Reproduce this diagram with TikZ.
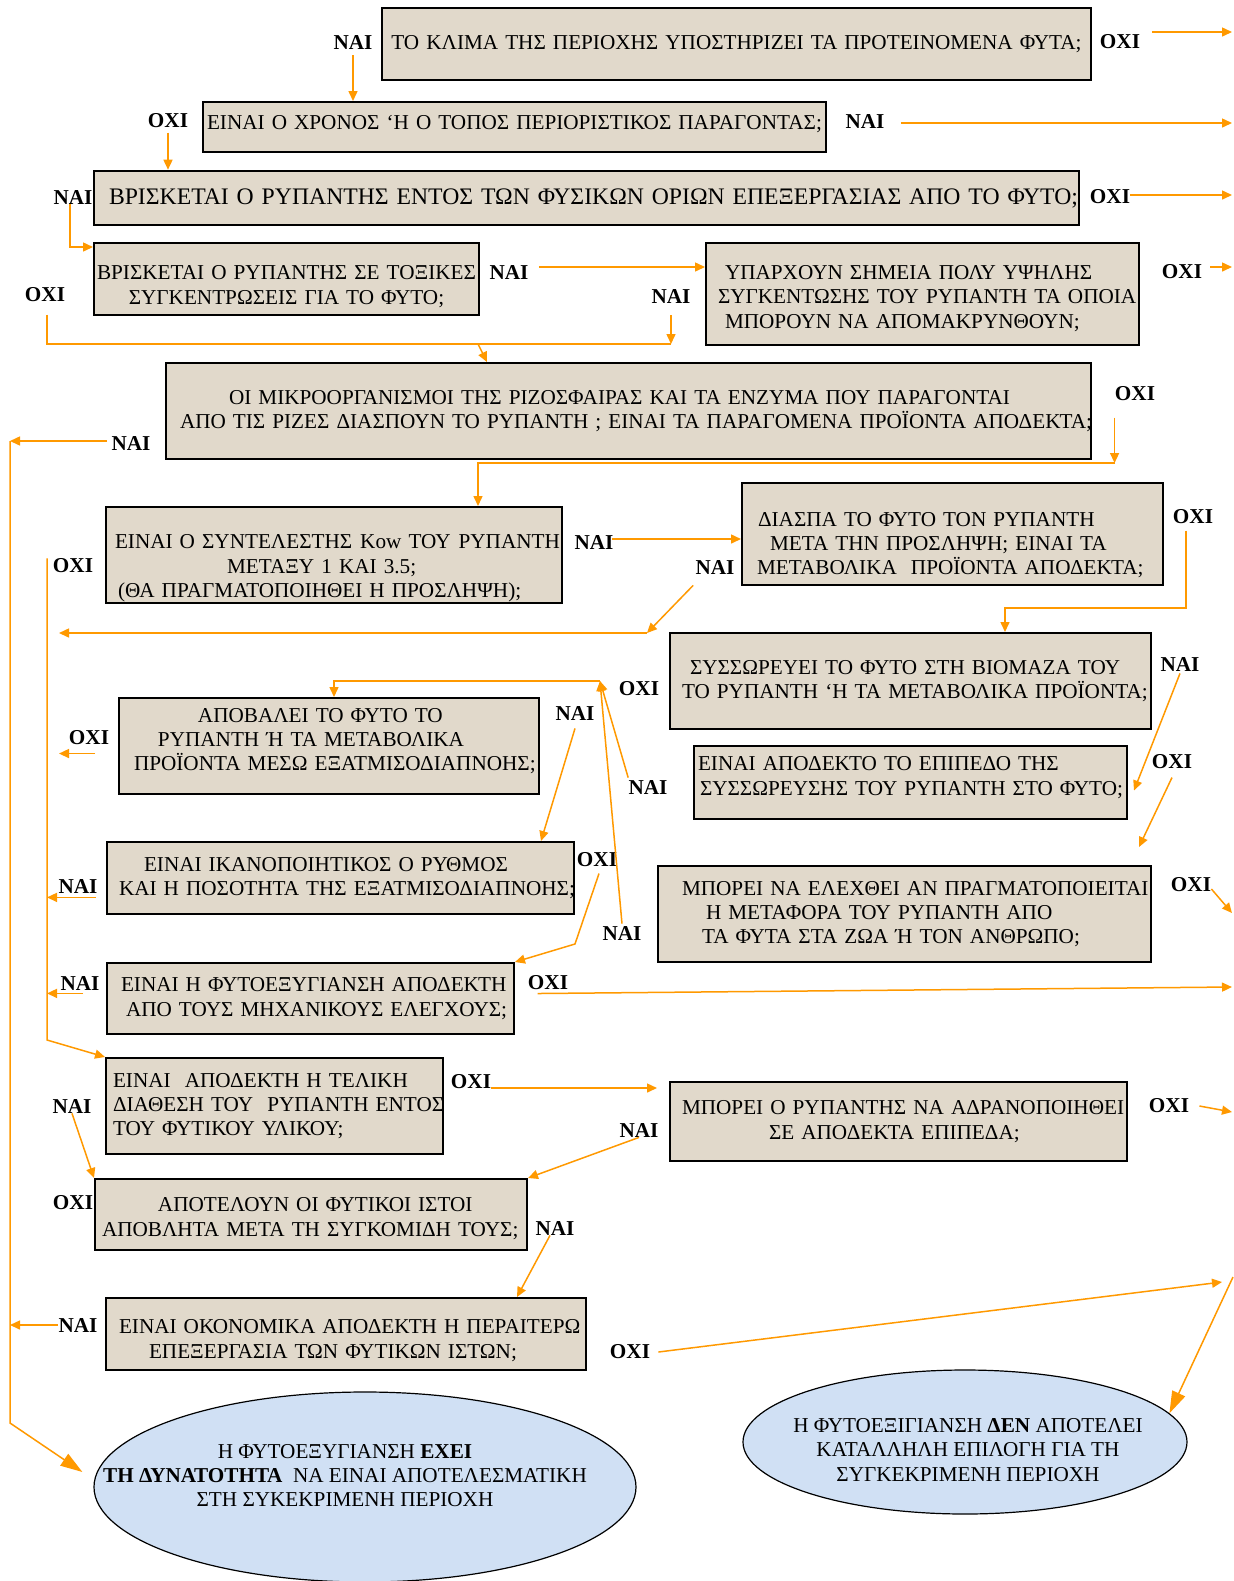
\documentclass[tikz,border=0pt]{standalone}
\usepackage{fontspec}
\setmainfont{Liberation Serif}
\usetikzlibrary{arrows.meta,calc,shapes.geometric}
\definecolor{boxfill}{RGB}{225,217,203}
\definecolor{ellfill}{RGB}{208,224,244}
\definecolor{arrorange}{RGB}{255,153,0}
\newcommand{\diagfont}{\fontsize{10.6pt}{12.2pt}\selectfont}
\newcommand{\bigdiagfont}{\fontsize{11.85pt}{13.5pt}\selectfont}
\newcommand{\bline}[2]{\hspace*{#1}\mbox{#2}}
\newcommand{\tdn}[1]{\rule{0pt}{#1}}
\newcommand{\tup}[1]{\rule[-#1]{0pt}{0pt}}
\begin{document}
\begin{tikzpicture}[x=0.5pt,y=-0.5pt,
  qbox/.style={draw=black, line width=1pt, fill=boxfill, inner xsep=0pt, inner ysep=0pt, font=\diagfont},
  bx/.style 2 args={minimum width=#1, text width=#1, minimum height=#2},
  lab/.style={font={\diagfont\bfseries}, inner sep=0pt},
  conn/.style={draw=arrorange, line width=0.75pt},
  arr/.style={conn, -{Triangle[length=5pt,width=4.5pt]}},
  bigarr/.style={conn, -{Triangle[length=11pt,width=7pt]}},
  ell/.style={ellipse, draw=black, line width=0.6pt, fill=ellfill, inner sep=0pt},
  elltext/.style={font=\diagfont, align=center, inner sep=0pt}
]
\fill[white] (0,0) rectangle (1233,1581);
\useasboundingbox (0,0) rectangle (1233,1581);

% ---------------- boxes ----------------
\node[qbox, line width=1.3pt, bx={354.5pt}{36pt}, align=center] (b1) at (736.5,44)
  {\mbox{ΤΟ ΚΛΙΜΑ ΤΗΣ ΠΕΡΙΟΧΗΣ ΥΠΟΣΤΗΡΙΖΕΙ ΤΑ ΠΡΟΤΕΙΝΟΜΕΝΑ ΦΥΤΑ;}};
\node[qbox, bx={311.5pt}{25pt}, align=center] (b2) at (514.5,127)
  {\mbox{ΕΙΝΑΙ Ο ΧΡΟΝΟΣ ‘Η Ο ΤΟΠΟΣ ΠΕΡΙΟΡΙΣΤΙΚΟΣ ΠΑΡΑΓΟΝΤΑΣ;}\tup{4.5pt}};
\node[qbox, line width=1.3pt, bx={492.5pt}{27pt}, align=left, font=\bigdiagfont] (b3) at (586.5,198)
  {\bline{7.5pt}{ΒΡΙΣΚΕΤΑΙ Ο ΡΥΠΑΝΤΗΣ ΕΝΤΟΣ ΤΩΝ ΦΥΣΙΚΩΝ ΟΡΙΩΝ ΕΠΕΞΕΡΓΑΣΙΑΣ ΑΠΟ ΤΟ ΦΥΤΟ;}};
\node[qbox, bx={192.5pt}{36pt}, align=center] (b4) at (286.5,279)
  {\tdn{14.6pt}\mbox{ΒΡΙΣΚΕΤΑΙ Ο ΡΥΠΑΝΤΗΣ ΣΕ ΤΟΞΙΚΕΣ}\\\mbox{ΣΥΓΚΕΝΤΡΩΣΕΙΣ ΓΙΑ ΤΟ ΦΥΤΟ;}};
\node[qbox, bx={216.5pt}{51pt}, align=left] (b5) at (922.5,294)
  {\tdn{11.6pt}\bline{9.5pt}{ΥΠΑΡΧΟΥΝ ΣΗΜΕΙΑ ΠΟΛΥ ΥΨΗΛΗΣ}\\\bline{6pt}{ΣΥΓΚΕΝΤΩΣΗΣ ΤΟΥ ΡΥΠΑΝΤΗ ΤΑ ΟΠΟΙΑ}\\\bline{9.5pt}{ΜΠΟΡΟΥΝ ΝΑ ΑΠΟΜΑΚΡΥΝΘΟΥΝ;}};
\node[qbox, bx={462.5pt}{48pt}, align=left] (b6) at (628.5,411)
  {\bline{31.5pt}{ΟΙ ΜΙΚΡΟΟΡΓΑΝΙΣΜΟΙ ΤΗΣ ΡΙΖΟΣΦΑΙΡΑΣ ΚΑΙ ΤΑ ΕΝΖΥΜΑ ΠΟΥ ΠΑΡΑΓΟΝΤΑΙ}\\\bline{7pt}{ΑΠΟ ΤΙΣ ΡΙΖΕΣ ΔΙΑΣΠΟΥΝ ΤΟ ΡΥΠΑΝΤΗ ; ΕΙΝΑΙ ΤΑ ΠΑΡΑΓΟΜΕΝΑ ΠΡΟΪΟΝΤΑ ΑΠΟΔΕΚΤΑ;}};
\node[qbox, bx={228pt}{48pt}, align=left] (b7) at (334,555)
  {\tdn{20.5pt}\bline{4.5pt}{ΕΙΝΑΙ Ο ΣΥΝΤΕΛΕΣΤΗΣ\hspace{4pt}Kow ΤΟΥ\hspace{4pt}ΡΥΠΑΝΤΗ}\\\bline{60.5pt}{ΜΕΤΑΞΥ 1 ΚΑΙ 3.5;}\\\bline{6pt}{(ΘΑ ΠΡΑΓΜΑΤΟΠΟΙΗΘΕΙ Η ΠΡΟΣΛΗΨΗ);}};
\node[qbox, bx={210.5pt}{51pt}, align=left] (b8) at (952.5,534)
  {\tdn{18.1pt}\bline{8pt}{ΔΙΑΣΠΑ ΤΟ ΦΥΤΟ ΤΟΝ ΡΥΠΑΝΤΗ}\\\bline{14pt}{ΜΕΤΑ ΤΗΝ ΠΡΟΣΛΗΨΗ; ΕΙΝΑΙ ΤΑ}\\\bline{7.5pt}{ΜΕΤΑΒΟΛΙΚΑ\ \ ΠΡΟΪΟΝΤΑ ΑΠΟΔΕΚΤΑ;}};
\node[qbox, bx={240.5pt}{48pt}, align=left] (b9) at (910.5,681)
  {\bline{10pt}{ΣΥΣΣΩΡΕΥΕΙ ΤΟ ΦΥΤΟ ΣΤΗ ΒΙΟΜΑΖΑ ΤΟΥ}\\\bline{6pt}{ΤΟ ΡΥΠΑΝΤΗ ‘Η ΤΑ ΜΕΤΑΒΟΛΙΚΑ ΠΡΟΪΟΝΤΑ;}};
\node[qbox, bx={216.5pt}{36.5pt}, align=left] (b10) at (910.5,782.5)
  {\bline{2pt}{ΕΙΝΑΙ ΑΠΟΔΕΚΤΟ ΤΟ ΕΠΙΠΕΔΟ ΤΗΣ}\\\bline{3pt}{ΣΥΣΣΩΡΕΥΣΗΣ ΤΟΥ ΡΥΠΑΝΤΗ ΣΤΟ ΦΥΤΟ;}\tup{6.5pt}};
\node[qbox, bx={246.5pt}{48pt}, align=left] (b12) at (904.5,914)
  {\bline{12pt}{ΜΠΟΡΕΙ ΝΑ ΕΛΕΧΘΕΙ ΑΝ ΠΡΑΓΜΑΤΟΠΟΙΕΙΤΑΙ}\\\bline{24pt}{Η ΜΕΤΑΦΟΡΑ ΤΟΥ ΡΥΠΑΝΤΗ ΑΠΟ}\\\bline{22pt}{ΤΑ ΦΥΤΑ ΣΤΑ ΖΩΑ Ή ΤΟΝ ΑΝΘΡΩΠΟ;}};
\node[qbox, bx={210pt}{48pt}, align=left] (bA) at (329,746)
  {\bline{39.5pt}{ΑΠΟΒΑΛΕΙ ΤΟ ΦΥΤΟ ΤΟ}\\\bline{19.5pt}{ΡΥΠΑΝΤΗ Ή ΤΑ ΜΕΤΑΒΟΛΙΚΑ}\\\bline{7.5pt}{ΠΡΟΪΟΝΤΑ ΜΕΣΩ ΕΞΑΤΜΙΣΟΔΙΑΠΝΟΗΣ;}\tup{6.5pt}};
\node[qbox, bx={233.5pt}{36pt}, align=left] (bB) at (340.5,878)
  {\bline{18.5pt}{ΕΙΝΑΙ ΙΚΑΝΟΠΟΙΗΤΙΚΟΣ Ο ΡΥΘΜΟΣ}\\\bline{6pt}{ΚΑΙ Η ΠΟΣΟΤΗΤΑ ΤΗΣ ΕΞΑΤΜΙΣΟΔΙΑΠΝΟΗΣ;}};
\node[qbox, bx={203.5pt}{35.5pt}, align=left] (bC) at (310.5,998.5)
  {\bline{7pt}{ΕΙΝΑΙ Η ΦΥΤΟΕΞΥΓΙΑΝΣΗ ΑΠΟΔΕΚΤΗ}\\\bline{9.5pt}{ΑΠΟ ΤΟΥΣ ΜΗΧΑΝΙΚΟΥΣ ΕΛΕΓΧΟΥΣ;}};
\node[qbox, bx={168.5pt}{48pt}, align=left] (bD) at (274.5,1106)
  {\bline{3.5pt}{ΕΙΝΑΙ\ \ ΑΠΟΔΕΚΤΗ Η ΤΕΛΙΚΗ}\\\bline{3.5pt}{ΔΙΑΘΕΣΗ ΤΟΥ\ \ ΡΥΠΑΝΤΗ ΕΝΤΟΣ}\\\bline{3.5pt}{ΤΟΥ ΦΥΤΙΚΟΥ ΥΛΙΚΟΥ;}};
\node[qbox, bx={228.5pt}{39.5pt}, align=left] (bE) at (898.5,1121.5)
  {\bline{6pt}{ΜΠΟΡΕΙ Ο ΡΥΠΑΝΤΗΣ ΝΑ ΑΔΡΑΝΟΠΟΙΗΘΕΙ}\\\bline{49.5pt}{ΣΕ ΑΠΟΔΕΚΤΑ ΕΠΙΠΕΔΑ;}};
\node[qbox, bx={216pt}{35.5pt}, align=left] (bF) at (311,1214.5)
  {\tdn{11.1pt}\bline{31.5pt}{ΑΠΟΤΕΛΟΥΝ ΟΙ ΦΥΤΙΚΟΙ ΙΣΤΟΙ}\\\bline{3.5pt}{ΑΠΟΒΛΗΤΑ ΜΕΤΑ ΤΗ ΣΥΓΚΟΜΙΔΗ ΤΟΥΣ;}};
\node[qbox, bx={240pt}{36pt}, align=left] (bG) at (346,1334)
  {\tdn{13.6pt}\bline{6.5pt}{ΕΙΝΑΙ ΟΚΟΝΟΜΙΚΑ ΑΠΟΔΕΚΤΗ Η ΠΕΡΑΙΤΕΡΩ}\\\bline{21.5pt}{ΕΠΕΞΕΡΓΑΣΙΑ ΤΩΝ ΦΥΤΙΚΩΝ ΙΣΤΩΝ;}};

% ---------------- ellipses ----------------
\node[ell, minimum width=271pt, minimum height=95pt] (ell1) at (365,1487) {};
\node[elltext] (ell1t) at (345,1475.5)
  {Η ΦΥΤΟΕΞΥΓΙΑΝΣΗ \textbf{ΕΧΕΙ}\\\textbf{ΤΗ ΔΥΝΑΤΟΤΗΤΑ}\ \ ΝΑ ΕΙΝΑΙ ΑΠΟΤΕΛΕΣΜΑΤΙΚΗ\\ΣΤΗ ΣΥΚΕΚΡΙΜΕΝΗ ΠΕΡΙΟΧΗ};
\node[ell, minimum width=222pt, minimum height=72pt] (ell2) at (965,1442) {};
\node[elltext] (ell2t) at (968,1450)
  {Η ΦΥΤΟΕΞΙΓΙΑΝΣΗ \textbf{ΔΕΝ} ΑΠΟΤΕΛΕΙ\\ΚΑΤΑΛΛΗΛΗ ΕΠΙΛΟΓΗ ΓΙΑ ΤΗ\\ΣΥΓΚΕΚΡΙΜΕΝΗ ΠΕΡΙΟΧΗ};

% ---------------- labels ----------------
\node[lab] (l1n) at (353,42) {ΝΑΙ};
\node[lab] (l1o) at (1120,42) {ΟΧΙ};
\node[lab] (l2o) at (168,121) {ΟΧΙ};
\node[lab] (l2n) at (865,121) {ΝΑΙ};
\node[lab] (l3n) at (73,197) {ΝΑΙ};
\node[lab] (l3o) at (1110,197) {ΟΧΙ};
\node[lab] (l4n) at (509,272) {ΝΑΙ};
\node[lab] (l4o) at (45,295) {ΟΧΙ};
\node[lab] (l5n) at (671,296) {ΝΑΙ};
\node[lab] (l5o) at (1182,272) {ΟΧΙ};
\node[lab] (l6n) at (131,443) {ΝΑΙ};
\node[lab] (l6o) at (1135,394) {ΟΧΙ};
\node[lab] (l7n) at (594,542) {ΝΑΙ};
\node[lab] (l7o) at (73,566) {ΟΧΙ};
\node[lab] (l8n) at (715,567) {ΝΑΙ};
\node[lab] (l8o) at (1193,517) {ΟΧΙ};
\node[lab] (l9n) at (1180,664) {ΝΑΙ};
\node[lab] (l9o) at (639,689) {ΟΧΙ};
\node[lab] (l10n) at (648,787) {ΝΑΙ};
\node[lab] (l10o) at (1172,762) {ΟΧΙ};
\node[lab] (lAo) at (89,738) {ΟΧΙ};
\node[lab] (lAn) at (575,713) {ΝΑΙ};
\node[lab] (lBn) at (78,886) {ΝΑΙ};
\node[lab] (lBo) at (597,860) {ΟΧΙ};
\node[lab] (l12n) at (622,933) {ΝΑΙ};
\node[lab] (l12o) at (1191,885) {ΟΧΙ};
\node[lab] (lCn) at (80,983) {ΝΑΙ};
\node[lab] (lCo) at (548,983) {ΟΧΙ};
\node[lab] (lDo) at (471,1082) {ΟΧΙ};
\node[lab] (lDn) at (72,1106) {ΝΑΙ};
\node[lab] (lEo) at (1169,1106) {ΟΧΙ};
\node[lab] (lEn) at (639,1130) {ΝΑΙ};
\node[lab] (lFo) at (73,1203) {ΟΧΙ};
\node[lab] (lFn) at (555,1228) {ΝΑΙ};
\node[lab] (lGn) at (78,1325) {ΝΑΙ};
\node[lab] (lGo) at (630,1352) {ΟΧΙ};

% ---------------- junction / free-end coordinates ----------------
\coordinate (R) at (1232,0);
\coordinate (r1) at (10,1423);
\coordinate (r2) at (47,1040);
\coordinate (j5) at (671,344);
\coordinate (j6) at (478,344);
\coordinate (j7a) at (1115,463);
\coordinate (j7b) at (478,463);
\coordinate (j8) at (647,633);
\coordinate (j9) at (1186,608);
\coordinate (jA) at (600,681);
\coordinate (j10) at (1139,847);
\coordinate (jB) at (575,944);
\coordinate (e12) at (1232,913);
\coordinate (eC) at (1232,987);
\coordinate (eE) at (1232,1112);
\coordinate (eG) at (1222,1282);
\coordinate (eR) at (1233,1277);
\path ($(lAo.south)+(3pt,-4pt)$) coordinate (sA);
\path ($(lBn.south east)+(-1pt,-2pt)$) coordinate (sB);
\path ($(lCn.south)+(1.5pt,-1.5pt)$) coordinate (sC);
\path ($(lCo.south west)+(5pt,-1.5pt)$) coordinate (sC2);
\path ($(lDo.east)+(0,-3pt)$) coordinate (sD);

% ---------------- connectors ----------------
\draw[arr] ([yshift=-3pt]l1n.south) -- (l1n.south |- b2.north);
\draw[arr] ($(l1o.east)+(6pt,5pt)$) -- ($(l1o.east -| R)+(0,5pt)$);
\draw[arr] ($(l2n.east)+(8pt,-1pt)$) -- ($(l2n.east -| R)+(0,-1pt)$);
\draw[arr] ([yshift=-2pt]l2o.south) -- (l2o.south |- b3.north);
\draw[arr] ([yshift=1pt]l3o.east) -- ($(l3o.east -| R)+(0,1pt)$);
\draw[arr] ([xshift=-1.5pt]l3n.south) |- ([yshift=-2.5pt]b4.north west);
\draw[arr] ($(l4n.east)+(5pt,2.5pt)$) -- ($(l4n.east -| b5.west)+(0,2.5pt)$);
\draw[conn] ([xshift=1pt,yshift=-6pt]l4o.south) |- (j5);
\draw[arr] ([yshift=-6pt]l5n.south) -- (j5);
\draw[arr] (j6) -- ($(b6.north west)+(161pt,0)$);
\draw[arr] ($(l5o.east)+(4pt,2.5pt)$) -- ($(l5o.east -| R)+(0,2.5pt)$);
\draw[arr] ([xshift=-2pt,yshift=1pt]l6n.west) -- ($(l6n.west -| r1)+(0,1pt)$);
\draw[bigarr] ($(l6n.west -| r1)+(0,1pt)$) -- (r1) -- ($(ell1.west)+(-5.5pt,7.5pt)$);
\draw[arr] ([yshift=-8pt]l6o.south west) -- (l6o.south west |- j7a);
\draw[arr] (j7a) -- (j7b) -- (j7b |- b7.north);
\draw[arr] ($(l7n.east)+(-1pt,1.5pt)$) -- ($(l7n.east -| b8.west)+(0,1.5pt)$);
\draw[arr] (l7o.north west -| r2) -- (r2) -- (bD.north west);
\draw[arr] ($(l8n.south west)+(-1pt,-5.5pt)$) -- (j8);
\draw[arr, shorten >=6pt] (j8) -- (j8 -| r2);
\draw[arr] ($(l8o.south -| j9)+(0,-3pt)$) -- (j9) -| ($(b9.north west)+(168pt,0)$);
\draw[arr] ([yshift=-1pt]l9n.south) -- ([xshift=3pt,yshift=-4pt]b10.east);
\draw[arr] ([yshift=-4pt]l10o.south) -- (j10);
\draw[arr] ([yshift=-2pt]l12o.east) -- (e12);
\draw[arr] ([yshift=1pt]l10n.north west) -- (jA);
\draw[arr] ([yshift=1pt]l12n.north) -- (jA);
\draw[arr] (jA) -| ($(bA.north west)+(108pt,0)$);
\draw[arr, shorten >=6pt] (sA) -- (sA -| r2);
\draw[arr] ([yshift=-4pt]lAn.south) -- ($(bB.north east)+(-17pt,0)$);
\draw[arr] (sB) -- (sB -| r2);
\draw[arr] ([xshift=1pt,yshift=-3pt]lBo.south) -- (jB) -- (bC.north east);
\draw[arr] (sC) -- (sC -| r2);
\draw[arr] (sC2) -- (eC);
\draw[arr, shorten >=6pt] (sD) -- (sD -| bE.west);
\draw[arr] (lDn.south) -- (bF.north west);
\draw[arr] ([xshift=5pt]lEo.east) -- (eE);
\draw[arr] (lEn.south) -- (bF.north east);
\draw[arr] ([xshift=-2.5pt]lFn.south) -- ($(bG.north east)+(-35pt,0)$);
\draw[arr] (lGn.west) -- (lGn.west -| r1);
\draw[arr] ([xshift=4pt]lGo.east) -- (eG);
\draw[bigarr] (eR) -- (ell2.8);
\end{tikzpicture}
\end{document}
